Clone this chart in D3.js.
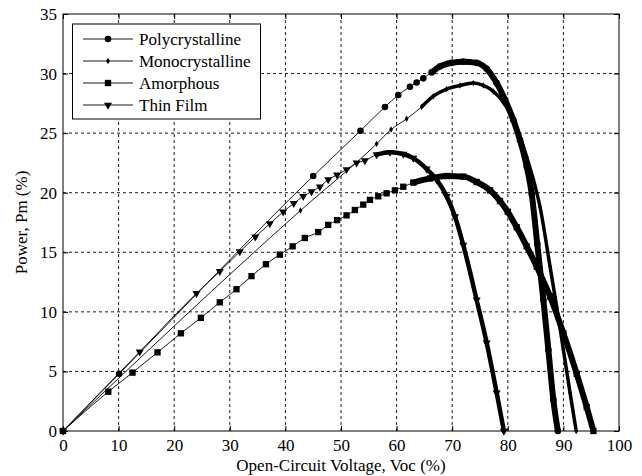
<!DOCTYPE html>
<html>
<head>
<meta charset="utf-8">
<script src="https://cdn.jsdelivr.net/npm/d3@7"></script>
<style>
body { margin: 0; background: #fff; }
text { font-family: "Liberation Serif", "Times New Roman", serif; fill: #000; }
</style>
</head>
<body>
<div id="chart"></div>
<script>
// tick values
var xTicks = [0, 10, 20, 30, 40, 50, 60, 70, 80, 90, 100];
var yTicks = [0, 5, 10, 15, 20, 25, 30, 35];

var seriesNames = ['Polycrystalline', 'Monocrystalline', 'Amorphous', 'Thin Film'];

// values: voltage (% Voc) and power (% Pm)
var polyV = [0, 10.1, 45, 53.5, 57.9, 60.3, 62.4, 63.6, 64.8, 66.3, 67.8, 69.9, 72.0, 74.4, 76.2, 78.0, 79.5, 81.0, 82.2, 83.4, 84.3, 85.3, 86.4, 87.3, 88.2, 89.0];
var polyP = [0, 4.8, 21.4, 25.2, 27.2, 28.2, 28.9, 29.25, 29.6, 30.1, 30.6, 30.9, 31.0, 30.9, 30.4, 29.2, 27.8, 26.1, 24.4, 22.2, 19.9, 15.7, 11.0, 6.8, 2.6, 0];

var monoV = [0, 42.7, 56.4, 59.0, 61.8, 64.5, 66.6, 69.0, 71.4, 73.8, 75.6, 77.4, 79.2, 81.0, 82.2, 83.4, 84.6, 85.8, 87.6, 88.8, 90.0, 91.2, 92.3];
var monoP = [0, 18.5, 24.1, 25.3, 26.2, 27.2, 28.1, 28.7, 29.0, 29.2, 29.0, 28.5, 27.6, 26.1, 24.7, 23.0, 21.1, 18.8, 13.8, 10.4, 6.8, 3.2, 0];

var amorV = [0, 8.15, 12.5, 17.0, 21.2, 24.8, 28.2, 31.2, 33.9, 36.5, 39.0, 41.3, 43.5, 45.9, 47.7, 49.3, 51.0, 52.5, 54.0, 55.2, 56.7, 58.2, 59.7, 61.2, 63.0, 66.0, 69.0, 72.0, 74.4, 76.8, 78.6, 80.0, 81.6, 83.4, 85.2, 87.6, 90.0, 92.4, 94.2, 95.4];
var amorP = [0, 3.3, 4.9, 6.6, 8.2, 9.5, 10.8, 11.9, 13.0, 14.0, 14.8, 15.5, 16.2, 16.7, 17.3, 17.7, 18.1, 18.55, 19.0, 19.4, 19.7, 19.95, 20.2, 20.5, 20.85, 21.2, 21.4, 21.35, 20.9, 20.2, 19.3, 18.4, 17.1, 15.5, 13.8, 11.3, 8.2, 4.8, 2.0, 0];

var thinV = [0, 13.8, 24.0, 28.2, 31.8, 34.6, 37.2, 39.6, 41.5, 43.2, 44.7, 46.2, 47.7, 49.3, 51.0, 52.8, 54.3, 56.4, 58.8, 61.2, 63.0, 65.4, 67.2, 69.0, 70.5, 72.0, 74.4, 76.2, 78.0, 79.3];
var thinP = [0, 6.65, 11.55, 13.4, 15.05, 16.3, 17.4, 18.4, 19.1, 19.7, 20.1, 20.5, 21.1, 21.5, 21.95, 22.5, 22.7, 23.2, 23.4, 23.25, 22.9, 22.0, 21.1, 19.7, 18.0, 15.6, 11.0, 7.4, 3.2, 0];

// drawing styles
var markers = ['circle', 'diamond', 'square', 'triangle'];
var denseFrom = [66, 62, 61.5, 55];   // where markers pile up into a thick band
var denseWidth = [6, 3.5, 6, 4.5];

var W = 642, H = 476;
var plotL = 63, plotR = 619, plotT = 14, plotB = 431;

var svg = d3.select('#chart').append('svg').attr('width', W).attr('height', H);

var x = d3.scaleLinear().domain([0, 100]).range([plotL, plotR]);
var y = d3.scaleLinear().domain([0, 35]).range([plotB, plotT]);

// grid
var grid = svg.append('g');
grid.selectAll('.gx').data(xTicks.slice(1, -1)).enter().append('line')
	.attr('x1', function(d){ return x(d); }).attr('x2', function(d){ return x(d); })
	.attr('y1', plotT).attr('y2', plotB);
grid.selectAll('.gy').data(yTicks.slice(1, -1)).enter().append('line')
	.attr('y1', function(d){ return y(d); }).attr('y2', function(d){ return y(d); })
	.attr('x1', plotL).attr('x2', plotR);
grid.selectAll('line').attr('stroke', '#000').attr('stroke-width', 0.9).attr('stroke-dasharray', '3,3');

// axes, ticks pointing inward like matlab
function styleAxis(g){
	g.select('.domain').remove();
	g.selectAll('line').attr('stroke', '#000');
	g.selectAll('text').style('font-size', '17px').style('font-family', '"Liberation Serif", serif').attr('fill', '#000');
}
svg.append('g').attr('transform', 'translate(0,' + plotB + ')')
	.call(d3.axisBottom(x).tickValues(xTicks).tickSizeInner(-5).tickSizeOuter(0).tickPadding(8))
	.call(styleAxis);
svg.append('g').attr('transform', 'translate(' + plotL + ',0)')
	.call(d3.axisLeft(y).tickValues(yTicks).tickSizeInner(-5).tickSizeOuter(0).tickPadding(6))
	.call(styleAxis);
svg.append('g').attr('transform', 'translate(0,' + plotT + ')')
	.call(d3.axisTop(x).tickValues(xTicks).tickSizeInner(-5).tickSizeOuter(0).tickFormat(''))
	.call(styleAxis);
svg.append('g').attr('transform', 'translate(' + plotR + ',0)')
	.call(d3.axisRight(y).tickValues(yTicks).tickSizeInner(-5).tickSizeOuter(0).tickFormat(''))
	.call(styleAxis);

svg.append('rect').attr('x', plotL).attr('y', plotT)
	.attr('width', plotR - plotL).attr('height', plotB - plotT)
	.attr('fill', 'none').attr('stroke', '#000').attr('stroke-width', 1);

// series
var series = [
	{v: polyV, p: polyP},
	{v: monoV, p: monoP},
	{v: amorV, p: amorP},
	{v: thinV, p: thinP}
];

var symbols = {
	circle: d3.symbol().type(d3.symbolCircle).size(34),
	diamond: d3.symbol().type(d3.symbolDiamond).size(12),
	square: d3.symbol().type(d3.symbolSquare).size(40),
	triangle: d3.symbol().type(d3.symbolTriangle).size(28)
};

var line = d3.line()
	.x(function(d){ return x(d[0]); })
	.y(function(d){ return y(d[1]); })
	.curve(d3.curveMonotoneX);

series.forEach(function(s, i){
	var pts = s.v.map(function(v, j){ return [v, s.p[j]]; });
	var g = svg.append('g');
	g.append('path').attr('d', line(pts))
		.attr('fill', 'none').attr('stroke', '#000').attr('stroke-width', 0.9);
	var dense = pts.filter(function(d){ return d[0] >= denseFrom[i]; });
	g.append('path').attr('d', line(dense))
		.attr('fill', 'none').attr('stroke', '#000').attr('stroke-width', denseWidth[i])
		.attr('stroke-linejoin', 'round');
	g.selectAll('.m').data(pts).enter().append('path')
		.attr('d', symbols[markers[i]])
		.attr('transform', function(d){
			var r = markers[i] == 'triangle' ? ' rotate(180)' : '';
			return 'translate(' + x(d[0]) + ',' + y(d[1]) + ')' + r;
		})
		.attr('fill', '#000');
});

// legend
var lg = svg.append('g');
lg.append('rect').attr('x', 72.5).attr('y', 24).attr('width', 188).attr('height', 95)
	.attr('fill', '#fff').attr('stroke', '#000').attr('stroke-width', 1);
seriesNames.forEach(function(name, i){
	var ly = 39 + i * 22;
	lg.append('line').attr('x1', 83).attr('x2', 133).attr('y1', ly).attr('y2', ly)
		.attr('stroke', '#000').attr('stroke-width', 0.9);
	lg.append('path').attr('d', symbols[markers[i]])
		.attr('transform', 'translate(108,' + ly + ')' + (markers[i] == 'triangle' ? ' rotate(180)' : ''))
		.attr('fill', '#000');
	lg.append('text').attr('x', 139).attr('y', ly + 6).style('font-size', '17px').text(name);
});

// axis titles
svg.append('text').attr('x', (plotL + plotR) / 2).attr('y', 471)
	.attr('text-anchor', 'middle').style('font-size', '17px')
	.text('Open-Circuit Voltage, Voc (%)');
svg.append('text')
	.attr('transform', 'translate(27,' + (plotT + plotB) / 2 + ') rotate(-90)')
	.attr('text-anchor', 'middle').style('font-size', '17px')
	.text('Power, Pm (%)');
</script>
</body>
</html>
